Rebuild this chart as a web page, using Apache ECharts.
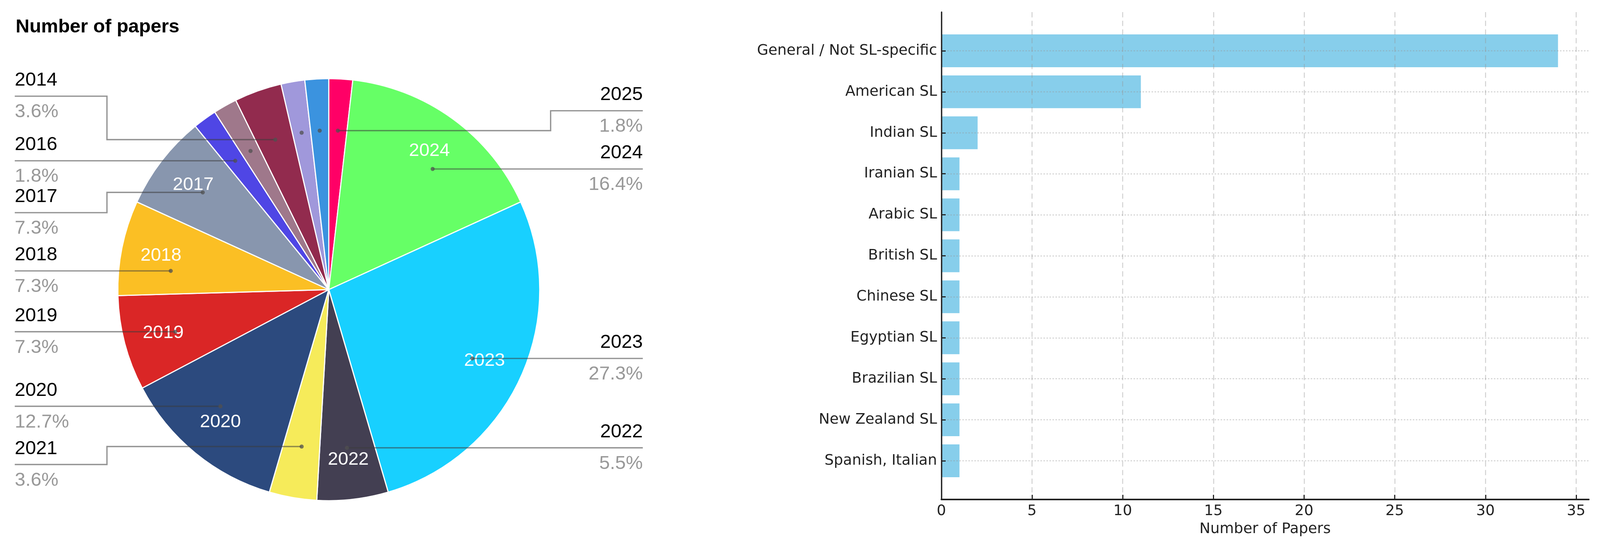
<!DOCTYPE html>
<html>
<head>
<meta charset="utf-8">
<script src="https://cdn.jsdelivr.net/npm/echarts@6/dist/echarts.min.js"></script>
<style>
html,body{margin:0;padding:0;background:#fff;overflow:hidden;}
#chart{width:100vw;height:100vh;}
</style>
</head>
<body>
<div id="chart"></div>
<script>
// ---------- data ----------
const years = ['2025','2024','2023','2022','2021','2020','2019','2018','2017','2016','2015','2014','2013','2012'];
const paperCounts = [1, 9, 15, 3, 2, 7, 4, 4, 4, 1, 1, 2, 1, 1];
const sliceColors = ['#ff0066','#66ff66','#18d0ff','#433f52','#f6eb5a','#2c4a7e','#da2626','#fbbf24',
                     '#8896ae','#4f46e5','#9f788b','#922b4e','#a098db','#3b93df'];
const hiddenOuterLabels = ['2015','2013','2012'];

const languages = ['General / Not SL-specific','American SL','Indian SL','Iranian SL','Arabic SL',
                   'British SL','Chinese SL','Egyptian SL','Brazilian SL','New Zealand SL','Spanish, Italian'];
const languageCounts = [34, 11, 2, 1, 1, 1, 1, 1, 1, 1, 1];
const xTicks = [0, 5, 10, 15, 20, 25, 30, 35];

// ---------- layout (designed for 4443 x 1397, mapped onto the real viewport) ----------
const el = document.getElementById('chart');
const SX = el.clientWidth / 4443, SY = el.clientHeight / 1397, SF = (SX + SY) / 2;
const X = v => v * SX, Y = v => v * SY, F = v => v * SF;

const PIE_LEFT = X(41), PIE_WIDTH = X(1744), CY = Y(741);
const R = F(562), R_LABEL = F(424), R_INNER0 = F(344);
const LABEL_RING_Y = Y(424);
const CX = PIE_LEFT + PIE_WIDTH / 2;
const BEND = X(256);
const LABEL_H = Y(149);
const MIN_STEP = Y(25);
const LINE_COLOR = 'rgba(60,60,60,0.55)';
const LABEL_FONT = 'Liberation Sans, Arial, sans-serif';
const MPL_FONT = 'DejaVu Sans, sans-serif';

const total = paperCounts.reduce((a, b) => a + b, 0);
const sliceAngles = [];
(function () { let acc = 0; paperCounts.forEach(v => { sliceAngles.push([acc / total * 360, (acc + v) / total * 360]); acc += v; }); })();
const midAngle = i => (sliceAngles[i][0] + sliceAngles[i][1]) / 2;

function polarPt(deg) {
  const r = deg * Math.PI / 180;
  return [CX + R_LABEL * Math.sin(r), CY - R_LABEL * Math.cos(r)];
}

// balanced (least-squares) vertical placement of the outer labels on each side
const labelTargetY = {};
(function () {
  [true, false].forEach(rightSide => {
    const items = [];
    years.forEach((y, i) => {
      if (hiddenOuterLabels.indexOf(y) >= 0) return;
      const m = midAngle(i);
      if ((m < 180) !== rightSide) return;
      items.push({ i: i, y: CY - LABEL_RING_Y * Math.cos(m * Math.PI / 180) });
    });
    items.sort((a, b) => a.y - b.y);
    const blocks = [];
    items.forEach((it, k) => {
      blocks.push({ sum: it.y - k * LABEL_H, n: 1 });
      while (blocks.length > 1) {
        const b = blocks[blocks.length - 1], a = blocks[blocks.length - 2];
        if (a.sum / a.n > b.sum / b.n) { a.sum += b.sum; a.n += b.n; blocks.pop(); } else break;
      }
    });
    let k = 0;
    blocks.forEach(b => { for (let j = 0; j < b.n; j++) { labelTargetY[items[k].i] = b.sum / b.n + k * LABEL_H; k++; } });
  });
})();

const dotPoints = [];
function outerLabelLayout(params) {
  const i = params.dataIndex;
  const rect = params.labelRect;
  const isLeft = midAngle(i) >= 180;
  let labelY = labelTargetY[i];
  const a0 = sliceAngles[i][0], a1 = sliceAngles[i][1], m = midAngle(i), half = (a1 - a0) / 2;
  let p0 = null, straight = false;
  const c = (CY - labelY) / R_LABEL;
  if (Math.abs(c) <= 1) {
    let th = Math.acos(c) * 180 / Math.PI;
    if (isLeft) th = 360 - th;
    if (Math.abs(th - m) <= 0.4 * half) { straight = true; p0 = polarPt(th); }
  }
  if (!p0) {
    p0 = polarPt(m);
    if (Math.abs(p0[1] - labelY) < MIN_STEP) { labelY = p0[1]; straight = true; }
  }
  const endX = isLeft ? rect.x : rect.x + rect.width;
  const bendX = isLeft ? rect.x + BEND : rect.x + rect.width - BEND;
  const pts = straight ? [p0, [endX, labelY]]
                       : [p0, [bendX, p0[1]], [bendX, labelY], [endX, labelY]];
  dotPoints[i] = p0;
  return { y: labelY, labelLinePoints: pts };
}

const pieData = years.map((y, i) => ({ name: y, value: paperCounts[i] }));
const outerData = years.map((y, i) => {
  const show = hiddenOuterLabels.indexOf(y) < 0;
  return { name: y, value: paperCounts[i], label: { show: show }, labelLine: { show: show } };
});

const chart = echarts.init(el, null, { renderer: 'canvas' });

const option = {
  animation: false,
  backgroundColor: '#ffffff',
  title: {
    text: 'Number of papers',
    left: X(38), top: Y(40),
    textStyle: { fontSize: F(51), fontWeight: 'bold', color: '#000', fontFamily: LABEL_FONT }
  },
  grid: [
    { left: X(2614), right: X(31), top: Y(31), bottom: Y(119) },
    { left: X(2614), right: X(31), top: Y(130), bottom: Y(218) }
  ],
  xAxis: [
    {
      gridIndex: 0, type: 'value', min: 0, max: 35.7, z: 5,
      axisLine: { show: true, onZero: false, lineStyle: { color: '#222', width: F(4) } },
      axisTick: { show: true, inside: true, length: Y(12), customValues: xTicks, lineStyle: { color: '#222', width: F(3) } },
      axisLabel: { customValues: xTicks, fontSize: F(39), color: '#222', fontFamily: MPL_FONT, margin: Y(12) },
      splitLine: { show: true, lineStyle: { color: 'rgba(150,150,150,0.45)', type: [F(14), F(9)], width: F(2.5) } },
      name: 'Number of Papers', nameLocation: 'middle', nameGap: Y(58),
      nameTextStyle: { fontSize: F(39), color: '#222', fontFamily: MPL_FONT }
    },
    { gridIndex: 1, type: 'value', min: 0, max: 35.7, show: false }
  ],
  yAxis: [
    {
      gridIndex: 0, type: 'value', min: 0, max: 1, z: 5,
      axisLine: { show: true, onZero: false, lineStyle: { color: '#222', width: F(3.5) } },
      axisTick: { show: false }, axisLabel: { show: false }, splitLine: { show: false }
    },
    {
      gridIndex: 1, type: 'category', data: languages, inverse: true, boundaryGap: false, z: 5,
      axisLine: { show: false },
      axisTick: { show: true, inside: true, length: X(12), interval: 0, lineStyle: { color: '#222', width: F(3) } },
      axisLabel: { interval: 0, fontSize: F(39), color: '#222', fontFamily: MPL_FONT, margin: X(12) },
      splitLine: { show: true, interval: 0, lineStyle: { color: 'rgba(150,150,150,0.45)', type: [F(4), F(4)], width: F(2.5) } }
    }
  ],
  series: [
    {
      name: 'pie', type: 'pie', z: 2, silent: true,
      left: PIE_LEFT, width: PIE_WIDTH, top: 0, bottom: 0,
      center: ['50%', CY], radius: [0, R],
      startAngle: 90, clockwise: true,
      data: pieData,
      itemStyle: { color: (p) => sliceColors[p.dataIndex], borderColor: '#fff', borderWidth: F(3) },
      label: { show: false }, labelLine: { show: false }
    },
    {
      name: 'inner-labels', type: 'pie', z: 3, silent: true,
      left: PIE_LEFT, width: PIE_WIDTH, top: 0, bottom: 0,
      center: ['50%', CY], radius: [R_INNER0, R],
      startAngle: 90, clockwise: true,
      minShowLabelAngle: 15,
      data: pieData,
      itemStyle: { color: 'rgba(0,0,0,0)', borderWidth: 0 },
      label: { show: true, position: 'inside', formatter: '{b}', color: '#fff', fontSize: F(49), fontFamily: LABEL_FONT },
      labelLine: { show: false }
    },
    {
      name: 'outer-labels', type: 'pie', z: 4, silent: true,
      left: PIE_LEFT, width: PIE_WIDTH, top: 0, bottom: 0,
      center: ['50%', CY], radius: [0, R_LABEL],
      startAngle: 90, clockwise: true,
      percentPrecision: 1,
      data: outerData,
      itemStyle: { color: 'rgba(0,0,0,0)', borderWidth: 0 },
      label: {
        show: true, alignTo: 'edge', edgeDistance: 0, minMargin: 0,
        formatter: '{name|{b}}\n{pct|{d}%}',
        rich: {
          name: { fontSize: F(51), color: '#000', fontFamily: LABEL_FONT, lineHeight: Y(81) },
          pct: { fontSize: F(51), color: '#999', fontFamily: LABEL_FONT, lineHeight: Y(81) }
        }
      },
      labelLine: { show: true, length: 0, length2: 0, lineStyle: { color: LINE_COLOR, width: F(3.5) } },
      labelLayout: outerLabelLayout
    },
    {
      name: 'Number of Papers', type: 'bar', xAxisIndex: 1, yAxisIndex: 1, z: 1,
      data: languageCounts, barCategoryGap: '20%', clip: false, silent: true,
      itemStyle: { color: '#87ceeb' }
    }
  ]
};
chart.setOption(option);

const pts = dotPoints.filter(Boolean);
chart.setOption({
  graphic: pts.map(p => ({
    type: 'circle', silent: true, z: 10,
    shape: { cx: p[0], cy: p[1], r: F(5.5) },
    style: { fill: 'rgba(80,80,80,0.75)' }
  }))
});
</script>
</body>
</html>
